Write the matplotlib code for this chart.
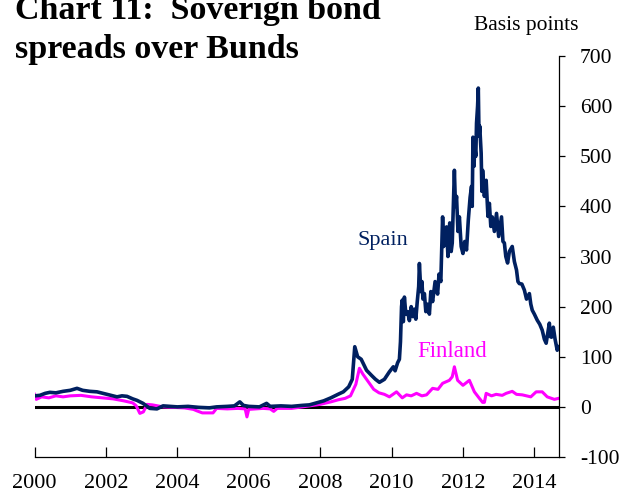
import matplotlib
matplotlib.use("Agg")
import matplotlib.pyplot as plt

# -----------------------------
# Data (decimal years / basis points)
# -----------------------------
spain_t = [
    2000.00, 2000.15, 2000.30, 2000.43, 2000.60, 2000.80, 2001.00, 2001.19,
    2001.35, 2001.55, 2001.75, 2001.92, 2002.10, 2002.31, 2002.45, 2002.59,
    2002.75, 2002.87, 2003.04, 2003.23, 2003.43, 2003.60, 2003.80, 2004.00,
    2004.30, 2004.60, 2004.90, 2005.10, 2005.40, 2005.60, 2005.75, 2005.85,
    2006.00, 2006.30, 2006.50, 2006.60, 2006.90, 2007.20, 2007.50, 2007.70,
    2007.90, 2008.10, 2008.30, 2008.50, 2008.65, 2008.80, 2008.90, 2008.97,
    2009.05, 2009.15, 2009.30, 2009.45, 2009.55, 2009.66, 2009.80, 2009.94,
    2010.05, 2010.10, 2010.17, 2010.22, 2010.25, 2010.28, 2010.30, 2010.33,
    2010.36, 2010.40, 2010.45, 2010.50, 2010.55, 2010.60, 2010.64, 2010.68,
    2010.72, 2010.76, 2010.78, 2010.82, 2010.85, 2010.88, 2010.92, 2010.96,
    2011.00, 2011.06, 2011.10, 2011.15, 2011.22, 2011.29, 2011.33, 2011.38,
    2011.43, 2011.46, 2011.50, 2011.54, 2011.58, 2011.63, 2011.67, 2011.70,
    2011.73, 2011.76, 2011.79, 2011.82, 2011.86, 2011.90, 2011.95, 2012.00,
    2012.05, 2012.10, 2012.15, 2012.20, 2012.24, 2012.26, 2012.28, 2012.31,
    2012.33, 2012.36, 2012.38, 2012.41, 2012.43, 2012.45, 2012.47, 2012.51,
    2012.53, 2012.55, 2012.60, 2012.65, 2012.70, 2012.74, 2012.78, 2012.82,
    2012.88, 2012.94, 2013.00, 2013.08, 2013.12, 2013.16, 2013.20, 2013.25,
    2013.30, 2013.38, 2013.44, 2013.50, 2013.54, 2013.58, 2013.65, 2013.72,
    2013.78, 2013.86, 2013.90, 2013.94, 2014.00, 2014.08, 2014.15, 2014.22,
    2014.28, 2014.33, 2014.38, 2014.42, 2014.45, 2014.48, 2014.53, 2014.58,
    2014.64, 2014.68,
]
spain_v = [
    22, 23, 27, 29, 28, 31, 33, 37,
    33, 31, 30, 27, 24, 20, 22, 21,
    16, 13, 7, -3, -4, 2, 1, 0,
    1, -1, -2, 0, 1, 2, 10, 3,
    1, 0, 7, 1, 2, 1, 3, 4,
    8, 12, 18, 25, 30, 40, 55, 120,
    100, 95, 73, 62, 55, 49, 55, 70,
    80, 72, 88, 95, 130, 200, 213, 170,
    219, 185, 190, 172, 200, 180, 195, 175,
    210, 240, 286, 230, 250, 215, 226, 190,
    205, 185, 230, 210, 250, 225, 265, 250,
    379, 320, 340, 359, 300, 367, 310, 327,
    400, 472, 400, 420, 350, 379, 320, 306,
    330, 313, 373, 418, 440, 400, 538, 480,
    520, 500, 566, 600, 636, 540, 560, 506,
    430, 472, 420, 452, 380, 406, 360, 379,
    350, 386, 340, 379, 330, 327, 300, 287,
    310, 320, 290, 273, 250, 246, 245, 233,
    215, 226, 205, 193, 185, 173, 165, 153,
    135, 127, 150, 167, 140, 139, 159, 135,
    113, 120,
]

finland_t = [
    2000.00, 2000.05, 2000.20, 2000.40, 2000.60, 2000.80, 2001.00, 2001.30,
    2001.60, 2001.90, 2002.20, 2002.50, 2002.75, 2002.85, 2002.95, 2003.05,
    2003.15, 2003.30, 2003.60, 2003.90, 2004.20, 2004.45, 2004.55, 2004.70,
    2005.00, 2005.10, 2005.40, 2005.70, 2005.90, 2005.95, 2006.00, 2006.40,
    2006.60, 2006.70, 2006.80, 2007.20, 2007.50, 2007.80, 2008.00, 2008.30,
    2008.50, 2008.70, 2008.85, 2009.00, 2009.10, 2009.20, 2009.35, 2009.50,
    2009.65, 2009.80, 2009.94, 2010.14, 2010.30, 2010.42, 2010.55, 2010.70,
    2010.85, 2010.98, 2011.15, 2011.30, 2011.43, 2011.62, 2011.70, 2011.76,
    2011.85, 2012.00, 2012.18, 2012.32, 2012.46, 2012.55, 2012.60, 2012.65,
    2012.80, 2012.93, 2013.10, 2013.21, 2013.38, 2013.50, 2013.66, 2013.90,
    2014.05, 2014.22, 2014.36, 2014.56, 2014.68,
]
finland_v = [
    25, 15, 20, 18, 22, 20, 22, 23,
    20, 18, 16, 12, 8, 2, -13, -10,
    5, 4, 0, -1, -2, -5, -8, -12,
    -12, -3, -4, -3, -4, -20, -5, -3,
    -4, -9, -3, -3, 0, 3, 5, 10,
    14, 17, 22, 45, 77, 65, 50, 35,
    28, 25, 20, 30, 18, 24, 22, 27,
    22, 24, 37, 35, 47, 53, 60, 80,
    53, 43, 53, 30, 17, 9, 9, 27,
    22, 25, 23, 27, 31, 25, 24, 20,
    30, 30, 20, 15, 17,
]

year_ticks = [2000, 2002, 2004, 2006, 2008, 2010, 2012, 2014]
bp_ticks = [-100, 0, 100, 200, 300, 400, 500, 600, 700]

navy = "#002060"
magenta = "#FF00FF"

plt.rcParams["font.family"] = ["Liberation Serif", "DejaVu Serif"]

# -----------------------------
# Plot
# -----------------------------
fig = plt.figure(figsize=(6.2, 4.95), dpi=100)
ax = fig.add_axes([34.5 / 620, 38 / 495, (559 - 34.5) / 620, (457 - 56) / 495])

ax.axhline(0, color="black", linewidth=2.2, zorder=1)
ax.plot(spain_t, spain_v, color=navy, linewidth=2.6, zorder=3)
ax.plot(finland_t, finland_v, color=magenta, linewidth=2.2, zorder=2)

ax.set_xlim(2000, 2014.69)
ax.set_ylim(-100, 700)

ax.spines["left"].set_visible(False)
ax.spines["top"].set_visible(False)
ax.spines["right"].set_linewidth(0.9)
ax.spines["bottom"].set_linewidth(0.9)

ax.yaxis.tick_right()
ax.set_yticks(bp_ticks)
ax.set_yticklabels([str(v) for v in bp_ticks])
ax.tick_params(axis="y", direction="out", length=4, width=0.9,
               labelsize=15.5, pad=11)
for lbl in ax.get_yticklabels():
    lbl.set_horizontalalignment("left")

ax.set_xticks(year_ticks)
ax.set_xticklabels([str(y) for y in year_ticks])
ax.tick_params(axis="x", direction="in", length=7, width=0.9,
               labelsize=16, pad=12)

ax.text(2009.76, 332, "Spain", color=navy, fontsize=16, ha="center", va="center")
ax.text(2011.7, 110, "Finland", color=magenta, fontsize=16.5, ha="center", va="center")

fig.text(15 / 620, 1 - 19 / 495, "Chart 11:  Soverign bond", fontsize=24.5,
         fontweight="bold", ha="left", va="baseline")
fig.text(15 / 620, 1 - 58 / 495, "spreads over Bunds", fontsize=24.5,
         fontweight="bold", ha="left", va="baseline")
fig.text(474 / 620, 1 - 30 / 495, "Basis points", fontsize=15.5,
         ha="left", va="baseline")

fig.savefig("out.png", dpi=100)
